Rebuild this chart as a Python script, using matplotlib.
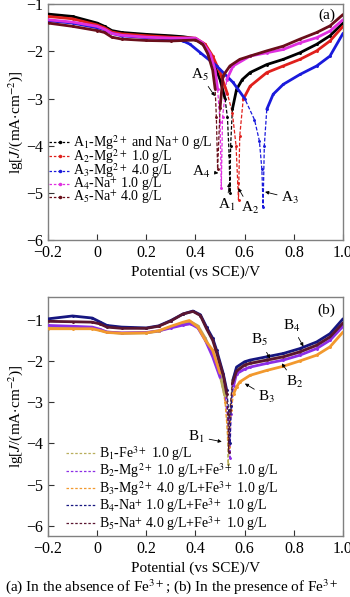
import numpy as np
import matplotlib
matplotlib.use("Agg")
import matplotlib.pyplot as plt
from matplotlib.lines import Line2D

plt.rcParams['font.family'] = ['Liberation Serif', 'DejaVu Serif']
plt.rcParams['mathtext.fontset'] = 'stix'
plt.rcParams['axes.unicode_minus'] = True

# ---- panel (a): no Fe3+ ----
a1_E = [-0.2, -0.1, 0.0, 0.03, 0.06, 0.1, 0.2, 0.3, 0.35, 0.40, 0.44, 0.47, 0.50, 0.52, 0.53, 0.537, 0.54, 0.543, 0.55, 0.567, 0.59, 0.622, 0.69, 0.757, 0.825, 0.893, 0.947, 1.0]
a1_v = [-1.21, -1.26, -1.40, -1.47, -1.56, -1.60, -1.64, -1.67, -1.69, -1.73, -1.90, -2.20, -2.60, -3.00, -3.40, -4.20, -5.00, -4.00, -3.23, -2.81, -2.60, -2.45, -2.28, -2.17, -2.03, -1.85, -1.67, -1.40]
a2_E = [-0.2, -0.1, 0.0, 0.03, 0.06, 0.1, 0.2, 0.3, 0.35, 0.40, 0.44, 0.47, 0.50, 0.53, 0.55, 0.565, 0.572, 0.575, 0.58, 0.594, 0.622, 0.69, 0.757, 0.825, 0.893, 0.947, 1.0]
a2_v = [-1.26, -1.31, -1.44, -1.50, -1.59, -1.63, -1.67, -1.70, -1.71, -1.72, -1.85, -2.10, -2.45, -2.90, -3.30, -4.00, -4.80, -5.15, -3.80, -3.02, -2.74, -2.45, -2.31, -2.17, -1.99, -1.78, -1.47]
a3_E = [-0.2, -0.1, 0.0, 0.03, 0.06, 0.1, 0.2, 0.3, 0.35, 0.378, 0.42, 0.486, 0.553, 0.60, 0.64, 0.66, 0.67, 0.675, 0.68, 0.69, 0.716, 0.757, 0.825, 0.893, 0.947, 1.0]
a3_v = [-1.35, -1.40, -1.50, -1.54, -1.62, -1.67, -1.71, -1.74, -1.78, -1.85, -2.03, -2.31, -2.66, -3.00, -3.45, -3.90, -4.50, -5.30, -4.00, -3.23, -2.91, -2.70, -2.49, -2.31, -2.10, -1.62]
a4_E = [-0.2, -0.1, 0.0, 0.03, 0.06, 0.1, 0.2, 0.3, 0.35, 0.40, 0.43, 0.46, 0.48, 0.49, 0.50, 0.505, 0.51, 0.527, 0.553, 0.622, 0.69, 0.757, 0.825, 0.893, 0.947, 1.0]
a4_v = [-1.33, -1.38, -1.47, -1.53, -1.62, -1.66, -1.70, -1.72, -1.72, -1.72, -1.82, -2.05, -2.40, -2.80, -3.50, -4.90, -3.40, -2.60, -2.31, -2.10, -2.03, -1.96, -1.82, -1.71, -1.57, -1.33]
a5_E = [-0.2, -0.1, 0.0, 0.03, 0.06, 0.1, 0.2, 0.3, 0.35, 0.40, 0.43, 0.45, 0.47, 0.48, 0.485, 0.49, 0.50, 0.512, 0.54, 0.58, 0.622, 0.69, 0.757, 0.825, 0.893, 0.947, 1.0]
a5_v = [-1.40, -1.47, -1.56, -1.60, -1.70, -1.74, -1.77, -1.78, -1.77, -1.76, -1.85, -2.05, -2.40, -2.80, -3.40, -4.50, -3.20, -2.52, -2.31, -2.17, -2.10, -1.99, -1.89, -1.74, -1.60, -1.46, -1.22]

a_labels = [r'A$_1$-Mg$^{2+}$ and Na$^{+}$ 0 g/L', r'A$_2$-Mg$^{2+}$ 1.0 g/L', r'A$_3$-Mg$^{2+}$ 4.0 g/L',
            r'A$_4$-Na$^{+}$ 1.0 g/L', r'A$_5$-Na$^{+}$ 4.0 g/L']
a_colors = ['#000000', '#e0201c', '#1a1adc', '#e030e0', '#6a0f1a']

# ---- panel (b): with Fe3+ ----
b1_E = [-0.2, -0.1, -0.02, 0.01, 0.04, 0.1, 0.2, 0.25, 0.3, 0.35, 0.38, 0.41, 0.44, 0.47, 0.50, 0.52, 0.528, 0.533, 0.54, 0.55, 0.567, 0.6, 0.622, 0.69, 0.757, 0.825, 0.893, 0.947, 1.0]
b1_v = [-1.19, -1.20, -1.21, -1.25, -1.30, -1.33, -1.32, -1.28, -1.18, -1.09, -1.05, -1.15, -1.45, -1.85, -2.35, -2.85, -3.40, -4.50, -3.30, -2.50, -2.20, -2.10, -2.06, -1.98, -1.90, -1.78, -1.62, -1.42, -1.10]
b2_E = [-0.2, -0.1, -0.02, 0.01, 0.04, 0.1, 0.2, 0.25, 0.3, 0.35, 0.38, 0.41, 0.44, 0.47, 0.50, 0.52, 0.532, 0.54, 0.545, 0.555, 0.567, 0.6, 0.622, 0.69, 0.757, 0.825, 0.893, 0.947, 1.0]
b2_v = [-1.14, -1.16, -1.18, -1.23, -1.30, -1.32, -1.31, -1.27, -1.20, -1.13, -1.10, -1.20, -1.50, -1.90, -2.40, -2.90, -3.40, -4.35, -3.30, -2.60, -2.31, -2.20, -2.15, -2.06, -1.98, -1.86, -1.70, -1.50, -1.16]
b3_E = [-0.2, -0.1, -0.02, 0.01, 0.04, 0.1, 0.2, 0.25, 0.3, 0.35, 0.375, 0.41, 0.44, 0.47, 0.50, 0.52, 0.535, 0.545, 0.555, 0.567, 0.58, 0.622, 0.69, 0.757, 0.825, 0.893, 0.947, 1.0]
b3_v = [-1.22, -1.22, -1.22, -1.26, -1.31, -1.33, -1.32, -1.27, -1.16, -1.06, -1.02, -1.18, -1.50, -1.74, -2.30, -3.00, -4.10, -3.20, -2.80, -2.63, -2.51, -2.35, -2.23, -2.13, -2.00, -1.86, -1.66, -1.30]
b4_E = [-0.2, -0.1, -0.02, 0.01, 0.04, 0.1, 0.2, 0.25, 0.3, 0.35, 0.39, 0.42, 0.445, 0.47, 0.486, 0.513, 0.527, 0.535, 0.54, 0.545, 0.552, 0.567, 0.6, 0.622, 0.69, 0.757, 0.825, 0.893, 0.947, 1.0]
b4_v = [-0.98, -0.91, -0.96, -1.05, -1.14, -1.18, -1.20, -1.15, -1.02, -0.86, -0.79, -0.88, -1.18, -1.45, -1.74, -2.31, -2.71, -3.20, -4.00, -3.10, -2.47, -2.15, -2.02, -1.98, -1.90, -1.82, -1.70, -1.54, -1.34, -0.98]
b5_E = [-0.2, -0.1, -0.02, 0.01, 0.04, 0.1, 0.2, 0.25, 0.3, 0.35, 0.39, 0.42, 0.445, 0.47, 0.486, 0.513, 0.527, 0.532, 0.535, 0.54, 0.55, 0.567, 0.6, 0.622, 0.69, 0.757, 0.825, 0.893, 0.947, 1.0]
b5_v = [-1.04, -1.05, -1.06, -1.10, -1.18, -1.21, -1.21, -1.16, -1.03, -0.86, -0.80, -0.90, -1.22, -1.50, -1.80, -2.35, -2.80, -3.30, -4.20, -3.20, -2.55, -2.25, -2.10, -2.06, -1.98, -1.90, -1.78, -1.62, -1.42, -1.08]

b_labels = [r'B$_1$-Fe$^{3+}$ 1.0 g/L', r'B$_2$-Mg$^{2+}$ 1.0 g/L+Fe$^{3+}$ 1.0 g/L',
            r'B$_3$-Mg$^{2+}$ 4.0 g/L+Fe$^{3+}$ 1.0 g/L', r'B$_4$-Na$^{+}$ 1.0 g/L+Fe$^{3+}$ 1.0 g/L',
            r'B$_5$-Na$^{+}$ 4.0 g/L+Fe$^{3+}$ 1.0 g/L']
b_colors = ['#b8ae5c', '#8c2ee6', '#f2992e', '#161680', '#5a1630']

xticks = [-0.2, 0, 0.2, 0.4, 0.6, 0.8, 1.0]
xticklabels = ['\u22120.2', '0', '0.2', '0.4', '0.6', '0.8', '1.0']
yticks = [-6, -5, -4, -3, -2, -1]
yticklabels = ['\u22126', '\u22125', '\u22124', '\u22123', '\u22122', '\u22121']


def draw_curve(ax, E, v, color, cut):
    E = np.array(E)
    v = np.array(v)
    ax.plot(E, v, color=color, lw=0.9, ls=(0, (3, 1.5)), marker='.', ms=2.2, zorder=2)
    main = np.where(v > cut, v, np.nan)
    ax.plot(E, main, color=color, lw=2.0, solid_capstyle='round', zorder=3)


def style_axes(ax, ylim):
    ax.set_xlim(-0.2, 1.0)
    ax.set_ylim(*ylim)
    ax.set_xticks(xticks)
    ax.set_xticklabels(xticklabels)
    ax.set_yticks(yticks)
    ax.set_yticklabels(yticklabels)
    ax.tick_params(direction='in', length=4, width=0.8, labelsize=11.5, colors='#333333', labelcolor='black')
    for s in ax.spines.values():
        s.set_color('#808080')
        s.set_linewidth(1.0)
    ax.set_xlabel('Potential (vs SCE)/V', fontsize=11, labelpad=3)
    ax.set_ylabel(r'lg[$J$/(mA$\cdot$cm$^{-2}$)]', fontsize=11, labelpad=1)


fig = plt.figure(figsize=(3.5, 5.97), dpi=100)
ax1 = fig.add_axes([0.137, 0.598, 0.843, 0.395])
ax2 = fig.add_axes([0.137, 0.102, 0.843, 0.4005])

a_E = [a1_E, a2_E, a3_E, a4_E, a5_E]
a_v = [a1_v, a2_v, a3_v, a4_v, a5_v]
for E, v, c in zip(a_E, a_v, a_colors):
    draw_curve(ax1, E, v, c, -3.3)
style_axes(ax1, (-6, -1))

handles = [Line2D([], [], color=c, lw=0.9, ls=(0, (2, 1.5)), marker='.', ms=3) for c in a_colors]
ax1.legend(handles, a_labels, loc='upper left', bbox_to_anchor=(0.0, 0.46), frameon=False,
           fontsize=10, handlelength=1.5, handletextpad=0.2, labelspacing=-0.32, borderaxespad=0.0,
           borderpad=0.1)
ax1.text(0.945, 0.953, '(a)', transform=ax1.transAxes, ha='center', va='center', fontsize=11)

arrow = dict(arrowstyle='-|>', lw=0.6, color='black', mutation_scale=5, shrinkA=1, shrinkB=0)
ax1.annotate(r'A$_5$', xy=(0.479, -2.95), xytext=(0.418, -2.49), fontsize=11, ha='center', va='center', arrowprops=arrow)
ax1.annotate(r'A$_4$', xy=(0.493, -4.58), xytext=(0.425, -4.55), fontsize=11, ha='center', va='center', arrowprops=arrow)
ax1.annotate(r'A$_1$', xy=(0.538, -4.79), xytext=(0.527, -5.26), fontsize=11, ha='center', va='center', arrowprops=arrow)
ax1.annotate(r'A$_2$', xy=(0.574, -4.90), xytext=(0.622, -5.33), fontsize=11, ha='center', va='center', arrowprops=arrow)
ax1.annotate(r'A$_3$', xy=(0.683, -4.98), xytext=(0.785, -5.11), fontsize=11, ha='center', va='center', arrowprops=arrow)

b_E = [b1_E, b2_E, b3_E, b4_E, b5_E]
b_v = [b1_v, b2_v, b3_v, b4_v, b5_v]
for E, v, c in zip(b_E, b_v, b_colors):
    draw_curve(ax2, E, v, c, -2.9)
style_axes(ax2, (-6.25, -0.45))

handles = [Line2D([], [], color=c, lw=0.9, ls=(0, (2, 1.5))) for c in b_colors]
ax2.legend(handles, b_labels, loc='upper left', bbox_to_anchor=(0.055, 0.39), frameon=False,
           fontsize=10, handlelength=2.2, handletextpad=0.2, labelspacing=-0.1, borderaxespad=0.0,
           borderpad=0.1)
ax2.text(0.945, 0.946, '(b)', transform=ax2.transAxes, ha='center', va='center', fontsize=11)

ax2.annotate(r'B$_4$', xy=(0.839, -1.65), xytext=(0.791, -1.14), fontsize=11, ha='center', va='center', arrowprops=arrow)
ax2.annotate(r'B$_5$', xy=(0.703, -1.94), xytext=(0.662, -1.50), fontsize=11, ha='center', va='center', arrowprops=arrow)
ax2.annotate(r'B$_2$', xy=(0.751, -2.06), xytext=(0.805, -2.51), fontsize=11, ha='center', va='center', arrowprops=arrow)
ax2.annotate(r'B$_3$', xy=(0.601, -2.55), xytext=(0.690, -2.87), fontsize=11, ha='center', va='center', arrowprops=arrow)
ax2.annotate(r'B$_1$', xy=(0.507, -3.96), xytext=(0.405, -3.84), fontsize=11, ha='center', va='center', arrowprops=arrow)

fig.text(0.49, 0.017, r'(a) In the absence of Fe$^{3+}$; (b) In the presence of Fe$^{3+}$',
         ha='center', va='center', fontsize=11)

fig.savefig('out.png', dpi=100)
